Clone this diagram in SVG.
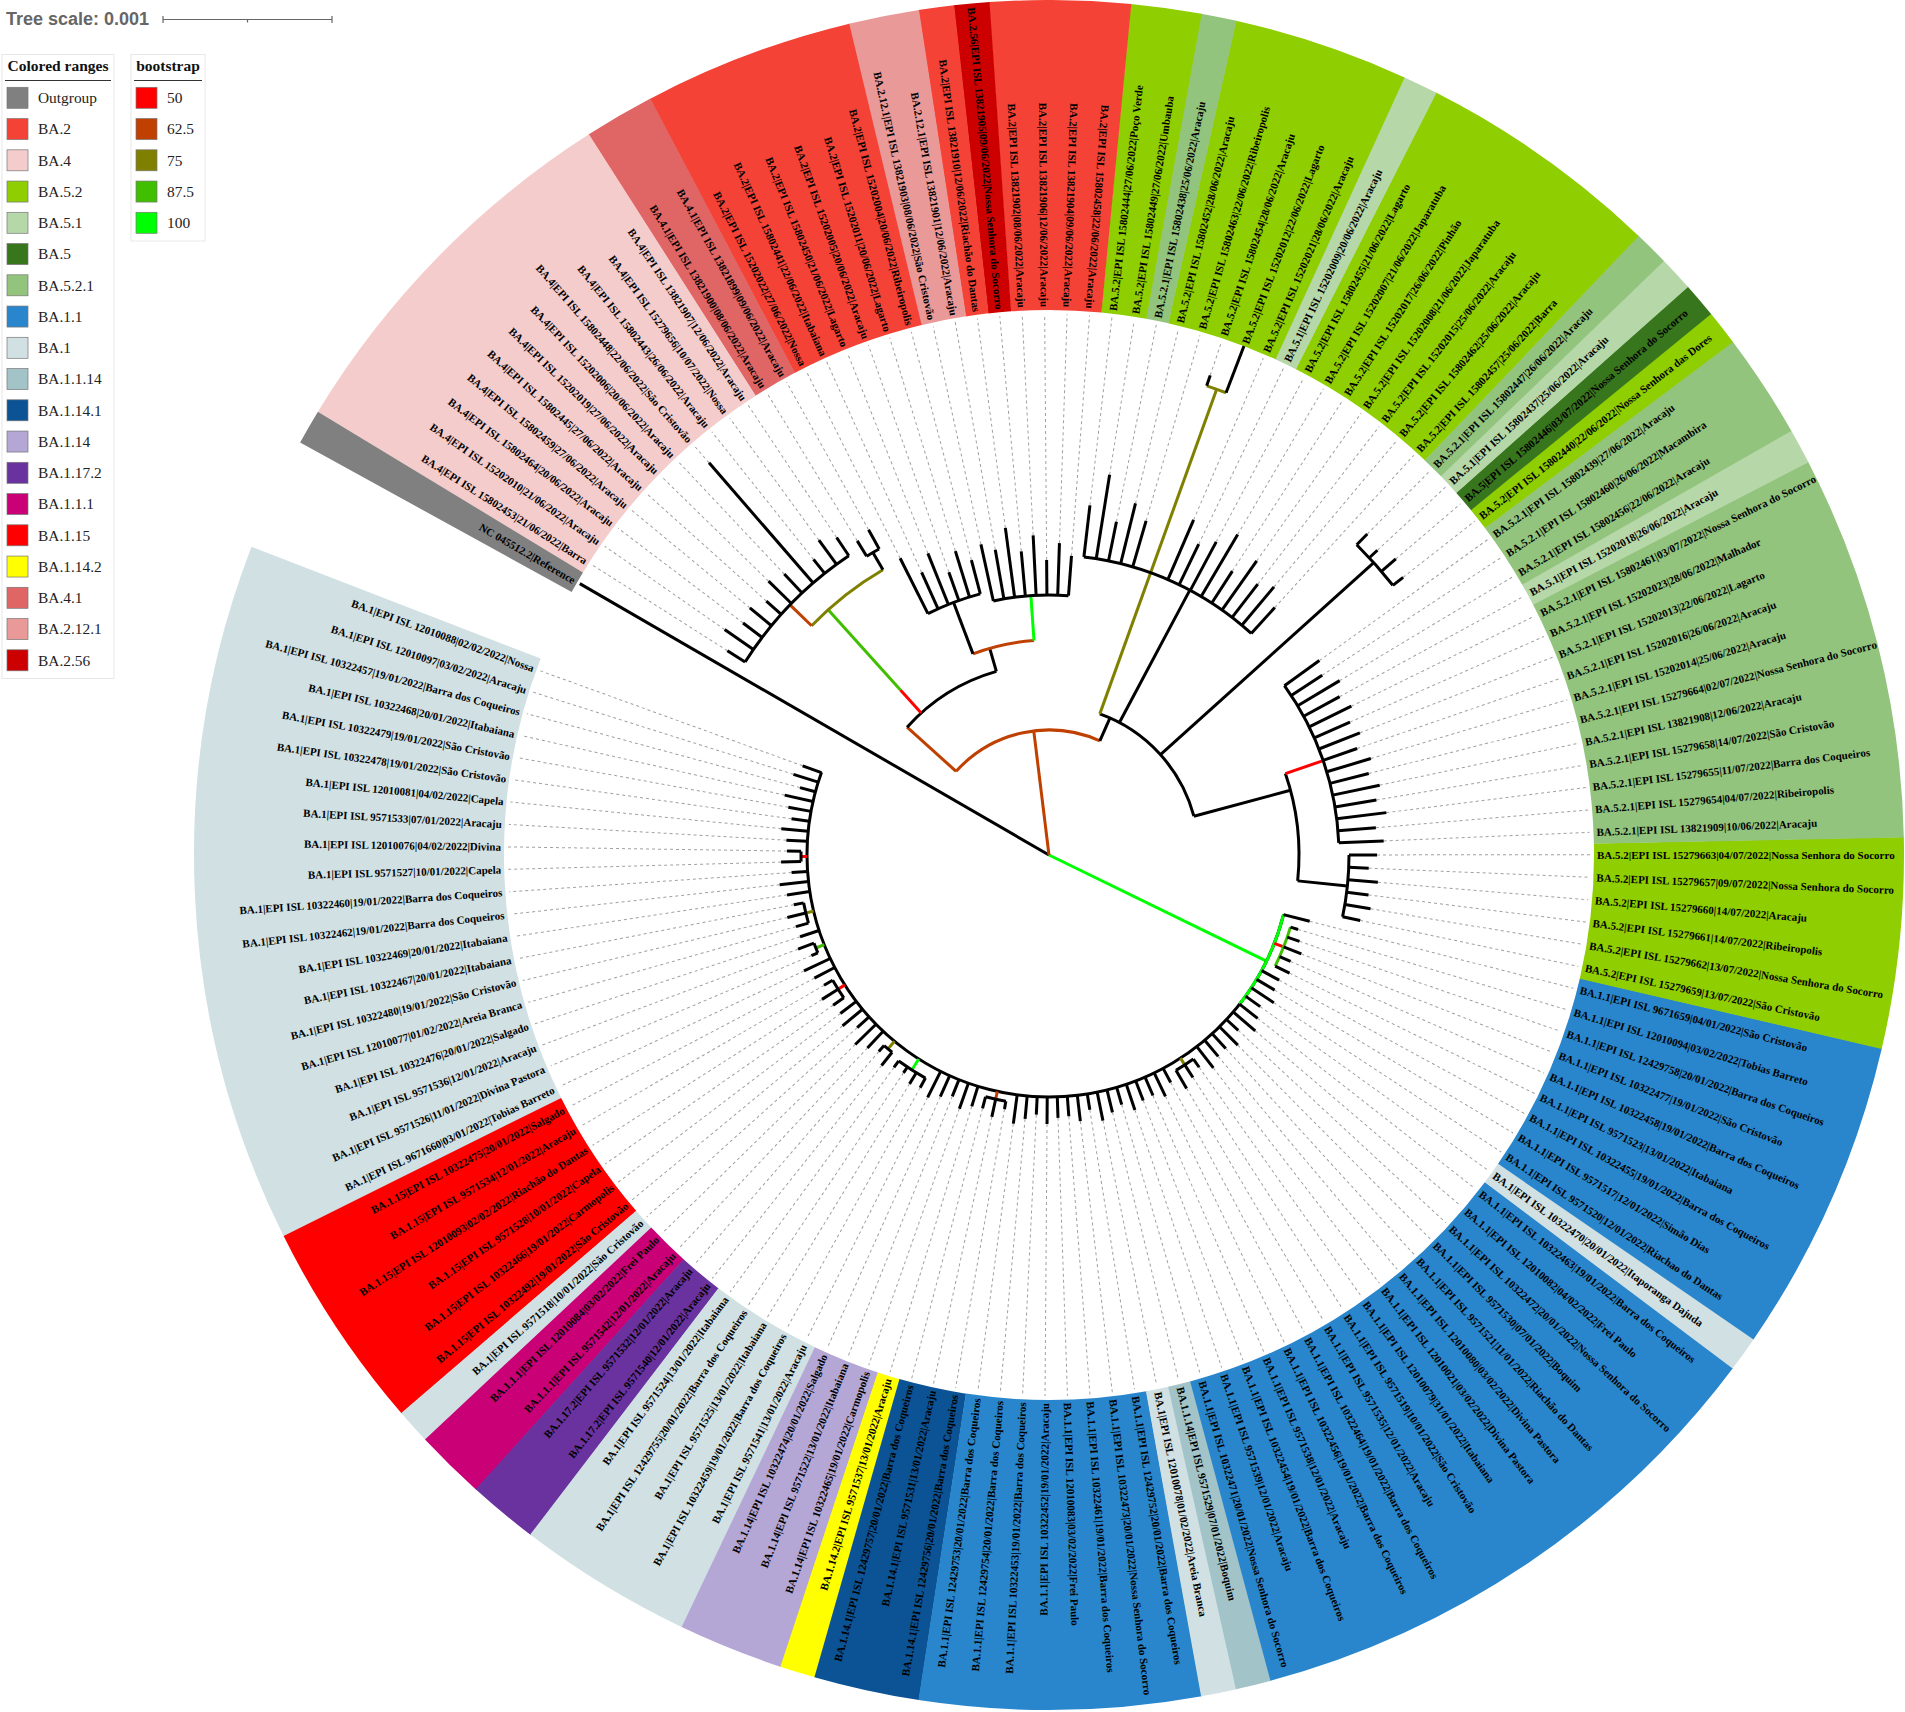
<svg xmlns="http://www.w3.org/2000/svg" width="1905" height="1712" viewBox="0 0 1905 1712">
<style>
.l{font-family:"Liberation Serif","Times New Roman",serif;font-weight:bold;font-size:11px;fill:#000;dominant-baseline:central}
.e{text-anchor:end}
.d{stroke:#a0a0a0;stroke-width:1;stroke-dasharray:3 3}
.b{fill:none;stroke-width:310}
.t{stroke:#000;stroke-width:3;fill:none}
.c50{stroke:#ff0000}.c62{stroke:#bf4000}.c75{stroke:#808000}.c87{stroke:#40bf00}.c100{stroke:#00ff00}
.lg{font-family:"Liberation Serif","Times New Roman",serif;font-size:15.4px;fill:#222}
.lh{font-family:"Liberation Serif","Times New Roman",serif;font-size:15.5px;font-weight:bold;fill:#111;text-anchor:middle}
.sw{stroke:#777;stroke-width:0.7}
</style>
<rect width="1905" height="1712" fill="#fff"/>
<g id="ranges">
<circle class="b" cx="1049" cy="855" r="700" stroke="#d0e0e3" stroke-dasharray="582 5000" transform="rotate(153.49 1049 855)"/>
<circle class="b" cx="1049" cy="855" r="700" stroke="#ff0000" stroke-dasharray="175 5000" transform="rotate(139.21 1049 855)"/>
<circle class="b" cx="1049" cy="855" r="700" stroke="#d0e0e3" stroke-dasharray="29.6 5000" transform="rotate(136.83 1049 855)"/>
<circle class="b" cx="1049" cy="855" r="700" stroke="#c90076" stroke-dasharray="58.7 5000" transform="rotate(132.07 1049 855)"/>
<circle class="b" cx="1049" cy="855" r="700" stroke="#6a329f" stroke-dasharray="58.7 5000" transform="rotate(127.31 1049 855)"/>
<circle class="b" cx="1049" cy="855" r="700" stroke="#d0e0e3" stroke-dasharray="146 5000" transform="rotate(115.41 1049 855)"/>
<circle class="b" cx="1049" cy="855" r="700" stroke="#b4a7d6" stroke-dasharray="87.7 5000" transform="rotate(108.27 1049 855)"/>
<circle class="b" cx="1049" cy="855" r="700" stroke="#ffff00" stroke-dasharray="29.6 5000" transform="rotate(105.89 1049 855)"/>
<circle class="b" cx="1049" cy="855" r="700" stroke="#0b5394" stroke-dasharray="87.7 5000" transform="rotate(98.75 1049 855)"/>
<circle class="b" cx="1049" cy="855" r="700" stroke="#2986cc" stroke-dasharray="233 5000" transform="rotate(79.71 1049 855)"/>
<circle class="b" cx="1049" cy="855" r="700" stroke="#d0e0e3" stroke-dasharray="29.6 5000" transform="rotate(77.33 1049 855)"/>
<circle class="b" cx="1049" cy="855" r="700" stroke="#a2c4c9" stroke-dasharray="29.6 5000" transform="rotate(74.95 1049 855)"/>
<circle class="b" cx="1049" cy="855" r="700" stroke="#2986cc" stroke-dasharray="465.7 5000" transform="rotate(36.87 1049 855)"/>
<circle class="b" cx="1049" cy="855" r="700" stroke="#d0e0e3" stroke-dasharray="29.6 5000" transform="rotate(34.49 1049 855)"/>
<circle class="b" cx="1049" cy="855" r="700" stroke="#2986cc" stroke-dasharray="262 5000" transform="rotate(13.07 1049 855)"/>
<circle class="b" cx="1049" cy="855" r="700" stroke="#8fce00" stroke-dasharray="175 5000" transform="rotate(-1.21 1049 855)"/>
<circle class="b" cx="1049" cy="855" r="700" stroke="#93c47d" stroke-dasharray="320.3 5000" transform="rotate(-27.39 1049 855)"/>
<circle class="b" cx="1049" cy="855" r="700" stroke="#b6d7a8" stroke-dasharray="29.6 5000" transform="rotate(-29.77 1049 855)"/>
<circle class="b" cx="1049" cy="855" r="700" stroke="#93c47d" stroke-dasharray="87.7 5000" transform="rotate(-36.91 1049 855)"/>
<circle class="b" cx="1049" cy="855" r="700" stroke="#8fce00" stroke-dasharray="29.6 5000" transform="rotate(-39.29 1049 855)"/>
<circle class="b" cx="1049" cy="855" r="700" stroke="#38761d" stroke-dasharray="29.6 5000" transform="rotate(-41.67 1049 855)"/>
<circle class="b" cx="1049" cy="855" r="700" stroke="#b6d7a8" stroke-dasharray="29.6 5000" transform="rotate(-44.05 1049 855)"/>
<circle class="b" cx="1049" cy="855" r="700" stroke="#93c47d" stroke-dasharray="29.6 5000" transform="rotate(-46.43 1049 855)"/>
<circle class="b" cx="1049" cy="855" r="700" stroke="#8fce00" stroke-dasharray="204 5000" transform="rotate(-63.09 1049 855)"/>
<circle class="b" cx="1049" cy="855" r="700" stroke="#b6d7a8" stroke-dasharray="29.6 5000" transform="rotate(-65.47 1049 855)"/>
<circle class="b" cx="1049" cy="855" r="700" stroke="#8fce00" stroke-dasharray="146 5000" transform="rotate(-77.37 1049 855)"/>
<circle class="b" cx="1049" cy="855" r="700" stroke="#93c47d" stroke-dasharray="29.6 5000" transform="rotate(-79.75 1049 855)"/>
<circle class="b" cx="1049" cy="855" r="700" stroke="#8fce00" stroke-dasharray="58.7 5000" transform="rotate(-84.51 1049 855)"/>
<circle class="b" cx="1049" cy="855" r="700" stroke="#f44336" stroke-dasharray="116.8 5000" transform="rotate(-94.03 1049 855)"/>
<circle class="b" cx="1049" cy="855" r="700" stroke="#cc0000" stroke-dasharray="29.6 5000" transform="rotate(-96.41 1049 855)"/>
<circle class="b" cx="1049" cy="855" r="700" stroke="#f44336" stroke-dasharray="29.6 5000" transform="rotate(-98.79 1049 855)"/>
<circle class="b" cx="1049" cy="855" r="700" stroke="#ea9999" stroke-dasharray="58.7 5000" transform="rotate(-103.55 1049 855)"/>
<circle class="b" cx="1049" cy="855" r="700" stroke="#f44336" stroke-dasharray="175 5000" transform="rotate(-117.83 1049 855)"/>
<circle class="b" cx="1049" cy="855" r="700" stroke="#e06666" stroke-dasharray="58.7 5000" transform="rotate(-122.59 1049 855)"/>
<circle class="b" cx="1049" cy="855" r="700" stroke="#f4cccc" stroke-dasharray="320.3 5000" transform="rotate(-148.77 1049 855)"/>
<circle class="b" cx="1049" cy="855" r="700" stroke="#808080" stroke-dasharray="29.1 5000" transform="rotate(-151.15 1049 855)"/>
</g>
<g id="connectors">
<g id="dashes">
<line class="d" x1="1311" y1="855" x2="1590" y2="855" transform="rotate(199.90 1049 855)"/>
<line class="d" x1="1317" y1="855" x2="1590" y2="855" transform="rotate(197.52 1049 855)"/>
<line class="d" x1="1307" y1="855" x2="1590" y2="855" transform="rotate(195.14 1049 855)"/>
<line class="d" x1="1320" y1="855" x2="1590" y2="855" transform="rotate(192.76 1049 855)"/>
<line class="d" x1="1314" y1="855" x2="1590" y2="855" transform="rotate(190.38 1049 855)"/>
<line class="d" x1="1309" y1="855" x2="1590" y2="855" transform="rotate(188.00 1049 855)"/>
<line class="d" x1="1318" y1="855" x2="1590" y2="855" transform="rotate(185.62 1049 855)"/>
<line class="d" x1="1312" y1="855" x2="1590" y2="855" transform="rotate(183.24 1049 855)"/>
<line class="d" x1="1311" y1="855" x2="1590" y2="855" transform="rotate(180.86 1049 855)"/>
<line class="d" x1="1317" y1="855" x2="1590" y2="855" transform="rotate(178.48 1049 855)"/>
<line class="d" x1="1307" y1="855" x2="1590" y2="855" transform="rotate(176.10 1049 855)"/>
<line class="d" x1="1320" y1="855" x2="1590" y2="855" transform="rotate(173.72 1049 855)"/>
<line class="d" x1="1314" y1="855" x2="1590" y2="855" transform="rotate(171.34 1049 855)"/>
<line class="d" x1="1309" y1="855" x2="1590" y2="855" transform="rotate(168.96 1049 855)"/>
<line class="d" x1="1318" y1="855" x2="1590" y2="855" transform="rotate(166.58 1049 855)"/>
<line class="d" x1="1312" y1="855" x2="1590" y2="855" transform="rotate(164.20 1049 855)"/>
<line class="d" x1="1311" y1="855" x2="1590" y2="855" transform="rotate(161.82 1049 855)"/>
<line class="d" x1="1317" y1="855" x2="1590" y2="855" transform="rotate(159.44 1049 855)"/>
<line class="d" x1="1307" y1="855" x2="1590" y2="855" transform="rotate(157.06 1049 855)"/>
<line class="d" x1="1320" y1="855" x2="1590" y2="855" transform="rotate(154.68 1049 855)"/>
<line class="d" x1="1314" y1="855" x2="1590" y2="855" transform="rotate(152.30 1049 855)"/>
<line class="d" x1="1309" y1="855" x2="1590" y2="855" transform="rotate(149.92 1049 855)"/>
<line class="d" x1="1318" y1="855" x2="1590" y2="855" transform="rotate(147.54 1049 855)"/>
<line class="d" x1="1312" y1="855" x2="1590" y2="855" transform="rotate(145.16 1049 855)"/>
<line class="d" x1="1311" y1="855" x2="1590" y2="855" transform="rotate(142.78 1049 855)"/>
<line class="d" x1="1317" y1="855" x2="1590" y2="855" transform="rotate(140.40 1049 855)"/>
<line class="d" x1="1307" y1="855" x2="1590" y2="855" transform="rotate(138.02 1049 855)"/>
<line class="d" x1="1320" y1="855" x2="1590" y2="855" transform="rotate(135.64 1049 855)"/>
<line class="d" x1="1314" y1="855" x2="1590" y2="855" transform="rotate(133.26 1049 855)"/>
<line class="d" x1="1309" y1="855" x2="1590" y2="855" transform="rotate(130.88 1049 855)"/>
<line class="d" x1="1318" y1="855" x2="1590" y2="855" transform="rotate(128.50 1049 855)"/>
<line class="d" x1="1312" y1="855" x2="1590" y2="855" transform="rotate(126.12 1049 855)"/>
<line class="d" x1="1311" y1="855" x2="1590" y2="855" transform="rotate(123.74 1049 855)"/>
<line class="d" x1="1317" y1="855" x2="1590" y2="855" transform="rotate(121.36 1049 855)"/>
<line class="d" x1="1315" y1="855" x2="1590" y2="855" transform="rotate(118.98 1049 855)"/>
<line class="d" x1="1320" y1="855" x2="1590" y2="855" transform="rotate(116.60 1049 855)"/>
<line class="d" x1="1314" y1="855" x2="1590" y2="855" transform="rotate(114.22 1049 855)"/>
<line class="d" x1="1309" y1="855" x2="1590" y2="855" transform="rotate(111.84 1049 855)"/>
<line class="d" x1="1318" y1="855" x2="1590" y2="855" transform="rotate(109.46 1049 855)"/>
<line class="d" x1="1312" y1="855" x2="1590" y2="855" transform="rotate(107.08 1049 855)"/>
<line class="d" x1="1311" y1="855" x2="1590" y2="855" transform="rotate(104.70 1049 855)"/>
<line class="d" x1="1317" y1="855" x2="1590" y2="855" transform="rotate(102.32 1049 855)"/>
<line class="d" x1="1307" y1="855" x2="1590" y2="855" transform="rotate(99.94 1049 855)"/>
<line class="d" x1="1320" y1="855" x2="1590" y2="855" transform="rotate(97.56 1049 855)"/>
<line class="d" x1="1314" y1="855" x2="1590" y2="855" transform="rotate(95.18 1049 855)"/>
<line class="d" x1="1309" y1="855" x2="1590" y2="855" transform="rotate(92.80 1049 855)"/>
<line class="d" x1="1318" y1="855" x2="1590" y2="855" transform="rotate(90.42 1049 855)"/>
<line class="d" x1="1312" y1="855" x2="1590" y2="855" transform="rotate(88.04 1049 855)"/>
<line class="d" x1="1311" y1="855" x2="1590" y2="855" transform="rotate(85.66 1049 855)"/>
<line class="d" x1="1317" y1="855" x2="1590" y2="855" transform="rotate(83.28 1049 855)"/>
<line class="d" x1="1307" y1="855" x2="1590" y2="855" transform="rotate(80.90 1049 855)"/>
<line class="d" x1="1320" y1="855" x2="1590" y2="855" transform="rotate(78.52 1049 855)"/>
<line class="d" x1="1314" y1="855" x2="1590" y2="855" transform="rotate(76.14 1049 855)"/>
<line class="d" x1="1309" y1="855" x2="1590" y2="855" transform="rotate(73.76 1049 855)"/>
<line class="d" x1="1318" y1="855" x2="1590" y2="855" transform="rotate(71.38 1049 855)"/>
<line class="d" x1="1312" y1="855" x2="1590" y2="855" transform="rotate(69.00 1049 855)"/>
<line class="d" x1="1311" y1="855" x2="1590" y2="855" transform="rotate(66.62 1049 855)"/>
<line class="d" x1="1317" y1="855" x2="1590" y2="855" transform="rotate(64.24 1049 855)"/>
<line class="d" x1="1307" y1="855" x2="1590" y2="855" transform="rotate(61.86 1049 855)"/>
<line class="d" x1="1320" y1="855" x2="1590" y2="855" transform="rotate(59.48 1049 855)"/>
<line class="d" x1="1314" y1="855" x2="1590" y2="855" transform="rotate(57.10 1049 855)"/>
<line class="d" x1="1309" y1="855" x2="1590" y2="855" transform="rotate(54.72 1049 855)"/>
<line class="d" x1="1318" y1="855" x2="1590" y2="855" transform="rotate(52.34 1049 855)"/>
<line class="d" x1="1312" y1="855" x2="1590" y2="855" transform="rotate(49.96 1049 855)"/>
<line class="d" x1="1311" y1="855" x2="1590" y2="855" transform="rotate(47.58 1049 855)"/>
<line class="d" x1="1317" y1="855" x2="1590" y2="855" transform="rotate(45.20 1049 855)"/>
<line class="d" x1="1307" y1="855" x2="1590" y2="855" transform="rotate(42.82 1049 855)"/>
<line class="d" x1="1320" y1="855" x2="1590" y2="855" transform="rotate(40.44 1049 855)"/>
<line class="d" x1="1314" y1="855" x2="1590" y2="855" transform="rotate(38.06 1049 855)"/>
<line class="d" x1="1309" y1="855" x2="1590" y2="855" transform="rotate(35.68 1049 855)"/>
<line class="d" x1="1318" y1="855" x2="1590" y2="855" transform="rotate(33.30 1049 855)"/>
<line class="d" x1="1312" y1="855" x2="1590" y2="855" transform="rotate(30.92 1049 855)"/>
<line class="d" x1="1311" y1="855" x2="1590" y2="855" transform="rotate(28.54 1049 855)"/>
<line class="d" x1="1317" y1="855" x2="1590" y2="855" transform="rotate(26.16 1049 855)"/>
<line class="d" x1="1313" y1="855" x2="1590" y2="855" transform="rotate(23.78 1049 855)"/>
<line class="d" x1="1320" y1="855" x2="1590" y2="855" transform="rotate(21.40 1049 855)"/>
<line class="d" x1="1314" y1="855" x2="1590" y2="855" transform="rotate(19.02 1049 855)"/>
<line class="d" x1="1309" y1="855" x2="1590" y2="855" transform="rotate(16.64 1049 855)"/>
<line class="d" x1="1318" y1="855" x2="1590" y2="855" transform="rotate(14.26 1049 855)"/>
<line class="d" x1="1367" y1="855" x2="1590" y2="855" transform="rotate(11.88 1049 855)"/>
<line class="d" x1="1375" y1="855" x2="1590" y2="855" transform="rotate(9.50 1049 855)"/>
<line class="d" x1="1371" y1="855" x2="1590" y2="855" transform="rotate(7.12 1049 855)"/>
<line class="d" x1="1379" y1="855" x2="1590" y2="855" transform="rotate(4.74 1049 855)"/>
<line class="d" x1="1369" y1="855" x2="1590" y2="855" transform="rotate(2.36 1049 855)"/>
<line class="d" x1="1377" y1="855" x2="1590" y2="855" transform="rotate(-0.02 1049 855)"/>
<line class="d" x1="1384" y1="855" x2="1590" y2="855" transform="rotate(-2.40 1049 855)"/>
<line class="d" x1="1377" y1="855" x2="1590" y2="855" transform="rotate(-4.78 1049 855)"/>
<line class="d" x1="1389" y1="855" x2="1590" y2="855" transform="rotate(-7.16 1049 855)"/>
<line class="d" x1="1381" y1="855" x2="1590" y2="855" transform="rotate(-9.54 1049 855)"/>
<line class="d" x1="1387" y1="855" x2="1590" y2="855" transform="rotate(-11.92 1049 855)"/>
<line class="d" x1="1379" y1="855" x2="1590" y2="855" transform="rotate(-14.30 1049 855)"/>
<line class="d" x1="1385" y1="855" x2="1590" y2="855" transform="rotate(-16.68 1049 855)"/>
<line class="d" x1="1375" y1="855" x2="1590" y2="855" transform="rotate(-19.06 1049 855)"/>
<line class="d" x1="1383" y1="855" x2="1590" y2="855" transform="rotate(-21.44 1049 855)"/>
<line class="d" x1="1378" y1="855" x2="1590" y2="855" transform="rotate(-23.82 1049 855)"/>
<line class="d" x1="1386" y1="855" x2="1590" y2="855" transform="rotate(-26.20 1049 855)"/>
<line class="d" x1="1380" y1="855" x2="1590" y2="855" transform="rotate(-28.58 1049 855)"/>
<line class="d" x1="1388" y1="855" x2="1590" y2="855" transform="rotate(-30.96 1049 855)"/>
<line class="d" x1="1376" y1="855" x2="1590" y2="855" transform="rotate(-33.34 1049 855)"/>
<line class="d" x1="1382" y1="855" x2="1590" y2="855" transform="rotate(-35.72 1049 855)"/>
<line class="d" x1="1499" y1="855" x2="1590" y2="855" transform="rotate(-38.10 1049 855)"/>
<line class="d" x1="1505" y1="855" x2="1590" y2="855" transform="rotate(-40.48 1049 855)"/>
<line class="d" x1="1497" y1="855" x2="1590" y2="855" transform="rotate(-42.86 1049 855)"/>
<line class="d" x1="1501" y1="855" x2="1590" y2="855" transform="rotate(-45.24 1049 855)"/>
<line class="d" x1="1384" y1="855" x2="1590" y2="855" transform="rotate(-47.62 1049 855)"/>
<line class="d" x1="1399" y1="855" x2="1590" y2="855" transform="rotate(-50.00 1049 855)"/>
<line class="d" x1="1391" y1="855" x2="1590" y2="855" transform="rotate(-52.38 1049 855)"/>
<line class="d" x1="1409" y1="855" x2="1590" y2="855" transform="rotate(-54.76 1049 855)"/>
<line class="d" x1="1387" y1="855" x2="1590" y2="855" transform="rotate(-57.14 1049 855)"/>
<line class="d" x1="1421" y1="855" x2="1590" y2="855" transform="rotate(-59.52 1049 855)"/>
<line class="d" x1="1404" y1="855" x2="1590" y2="855" transform="rotate(-61.90 1049 855)"/>
<line class="d" x1="1394" y1="855" x2="1590" y2="855" transform="rotate(-64.28 1049 855)"/>
<line class="d" x1="1414" y1="855" x2="1590" y2="855" transform="rotate(-66.66 1049 855)"/>
<line class="d" x1="1555" y1="855" x2="1590" y2="855" transform="rotate(-71.42 1049 855)"/>
<line class="d" x1="1397" y1="855" x2="1590" y2="855" transform="rotate(-73.80 1049 855)"/>
<line class="d" x1="1411" y1="855" x2="1590" y2="855" transform="rotate(-76.18 1049 855)"/>
<line class="d" x1="1389" y1="855" x2="1590" y2="855" transform="rotate(-78.56 1049 855)"/>
<line class="d" x1="1434" y1="855" x2="1590" y2="855" transform="rotate(-80.94 1049 855)"/>
<line class="d" x1="1401" y1="855" x2="1590" y2="855" transform="rotate(-83.32 1049 855)"/>
<line class="d" x1="1349" y1="855" x2="1590" y2="855" transform="rotate(-85.70 1049 855)"/>
<line class="d" x1="1361" y1="855" x2="1590" y2="855" transform="rotate(-88.08 1049 855)"/>
<line class="d" x1="1344" y1="855" x2="1590" y2="855" transform="rotate(-90.46 1049 855)"/>
<line class="d" x1="1369" y1="855" x2="1590" y2="855" transform="rotate(-92.84 1049 855)"/>
<line class="d" x1="1354" y1="855" x2="1590" y2="855" transform="rotate(-95.22 1049 855)"/>
<line class="d" x1="1379" y1="855" x2="1590" y2="855" transform="rotate(-97.60 1049 855)"/>
<line class="d" x1="1359" y1="855" x2="1590" y2="855" transform="rotate(-99.98 1049 855)"/>
<line class="d" x1="1367" y1="855" x2="1590" y2="855" transform="rotate(-102.36 1049 855)"/>
<line class="d" x1="1354" y1="855" x2="1590" y2="855" transform="rotate(-104.74 1049 855)"/>
<line class="d" x1="1367" y1="855" x2="1590" y2="855" transform="rotate(-107.12 1049 855)"/>
<line class="d" x1="1349" y1="855" x2="1590" y2="855" transform="rotate(-109.50 1049 855)"/>
<line class="d" x1="1374" y1="855" x2="1590" y2="855" transform="rotate(-111.88 1049 855)"/>
<line class="d" x1="1359" y1="855" x2="1590" y2="855" transform="rotate(-114.26 1049 855)"/>
<line class="d" x1="1381" y1="855" x2="1590" y2="855" transform="rotate(-116.64 1049 855)"/>
<line class="d" x1="1421" y1="855" x2="1590" y2="855" transform="rotate(-119.02 1049 855)"/>
<line class="d" x1="1417" y1="855" x2="1590" y2="855" transform="rotate(-121.40 1049 855)"/>
<line class="d" x1="1431" y1="855" x2="1590" y2="855" transform="rotate(-123.78 1049 855)"/>
<line class="d" x1="1439" y1="855" x2="1590" y2="855" transform="rotate(-126.16 1049 855)"/>
<line class="d" x1="1427" y1="855" x2="1590" y2="855" transform="rotate(-128.54 1049 855)"/>
<line class="d" x1="1568" y1="855" x2="1590" y2="855" transform="rotate(-130.92 1049 855)"/>
<line class="d" x1="1435" y1="855" x2="1590" y2="855" transform="rotate(-133.30 1049 855)"/>
<line class="d" x1="1441" y1="855" x2="1590" y2="855" transform="rotate(-135.68 1049 855)"/>
<line class="d" x1="1429" y1="855" x2="1590" y2="855" transform="rotate(-138.06 1049 855)"/>
<line class="d" x1="1437" y1="855" x2="1590" y2="855" transform="rotate(-140.44 1049 855)"/>
<line class="d" x1="1433" y1="855" x2="1590" y2="855" transform="rotate(-142.82 1049 855)"/>
<line class="d" x1="1444" y1="855" x2="1590" y2="855" transform="rotate(-145.20 1049 855)"/>
<line class="d" x1="1430" y1="855" x2="1590" y2="855" transform="rotate(-147.58 1049 855)"/>
</g>
<g id="tree">
<line class="t" x1="1049" y1="855" x2="1591" y2="855" transform="rotate(-149.96 1049 855)"/>
<line class="t c100" x1="1049" y1="855" x2="1291" y2="855" transform="rotate(26 1049 855)"/>
<circle class="t" cx="1049" cy="855" r="242" stroke-dasharray="784.1 9999" transform="rotate(14.26 1049 855)"/>
<circle class="t c100" cx="1049" cy="855" r="242" stroke-dasharray="100.3 9999" transform="rotate(14.26 1049 855)"/>
<line class="t c50" x1="1291" y1="855" x2="1297" y2="855" transform="rotate(179.67 1049 855)"/>
<circle class="t" cx="1049" cy="855" r="248" stroke-dasharray="10.3 9999" transform="rotate(178.48 1049 855)"/>
<line class="t c75" x1="1291" y1="855" x2="1299" y2="855" transform="rotate(166.58 1049 855)"/>
<circle class="t" cx="1049" cy="855" r="250" stroke-dasharray="20.8 9999" transform="rotate(164.20 1049 855)"/>
<line class="t c87" x1="1291" y1="855" x2="1300" y2="855" transform="rotate(158.25 1049 855)"/>
<circle class="t" cx="1049" cy="855" r="251" stroke-dasharray="10.4 9999" transform="rotate(157.06 1049 855)"/>
<line class="t c50" x1="1291" y1="855" x2="1299" y2="855" transform="rotate(147.54 1049 855)"/>
<circle class="t" cx="1049" cy="855" r="250" stroke-dasharray="20.8 9999" transform="rotate(145.16 1049 855)"/>
<line class="t c75" x1="1291" y1="855" x2="1301" y2="855" transform="rotate(129.69 1049 855)"/>
<circle class="t" cx="1049" cy="855" r="252" stroke-dasharray="10.5 9999" transform="rotate(128.50 1049 855)"/>
<line class="t c100" x1="1291" y1="855" x2="1304" y2="855" transform="rotate(122.55 1049 855)"/>
<circle class="t" cx="1049" cy="855" r="255" stroke-dasharray="31.8 9999" transform="rotate(118.98 1049 855)"/>
<line class="t c62" x1="1291" y1="855" x2="1299" y2="855" transform="rotate(102.32 1049 855)"/>
<circle class="t" cx="1049" cy="855" r="250" stroke-dasharray="20.8 9999" transform="rotate(99.94 1049 855)"/>
<line class="t c75" x1="1291" y1="855" x2="1299" y2="855" transform="rotate(57.10 1049 855)"/>
<circle class="t" cx="1049" cy="855" r="250" stroke-dasharray="20.8 9999" transform="rotate(54.72 1049 855)"/>
<line class="t c50" x1="1291" y1="855" x2="1301" y2="855" transform="rotate(21.40 1049 855)"/>
<circle class="t c87" cx="1049" cy="855" r="252" stroke-dasharray="41.9 9999" transform="rotate(16.64 1049 855)"/>
<line class="t" x1="1291" y1="855" x2="1311" y2="855" transform="rotate(199.90 1049 855)"/>
<line class="t" x1="1291" y1="855" x2="1317" y2="855" transform="rotate(197.52 1049 855)"/>
<line class="t" x1="1291" y1="855" x2="1307" y2="855" transform="rotate(195.14 1049 855)"/>
<line class="t" x1="1291" y1="855" x2="1320" y2="855" transform="rotate(192.76 1049 855)"/>
<line class="t" x1="1291" y1="855" x2="1314" y2="855" transform="rotate(190.38 1049 855)"/>
<line class="t" x1="1291" y1="855" x2="1309" y2="855" transform="rotate(188.00 1049 855)"/>
<line class="t" x1="1291" y1="855" x2="1318" y2="855" transform="rotate(185.62 1049 855)"/>
<line class="t" x1="1291" y1="855" x2="1312" y2="855" transform="rotate(183.24 1049 855)"/>
<line class="t" x1="1297" y1="855" x2="1311" y2="855" transform="rotate(180.86 1049 855)"/>
<line class="t" x1="1297" y1="855" x2="1317" y2="855" transform="rotate(178.48 1049 855)"/>
<line class="t" x1="1291" y1="855" x2="1307" y2="855" transform="rotate(176.10 1049 855)"/>
<line class="t" x1="1291" y1="855" x2="1320" y2="855" transform="rotate(173.72 1049 855)"/>
<line class="t" x1="1291" y1="855" x2="1314" y2="855" transform="rotate(171.34 1049 855)"/>
<line class="t" x1="1299" y1="855" x2="1309" y2="855" transform="rotate(168.96 1049 855)"/>
<line class="t" x1="1299" y1="855" x2="1318" y2="855" transform="rotate(166.58 1049 855)"/>
<line class="t" x1="1299" y1="855" x2="1312" y2="855" transform="rotate(164.20 1049 855)"/>
<line class="t" x1="1291" y1="855" x2="1311" y2="855" transform="rotate(161.82 1049 855)"/>
<line class="t" x1="1300" y1="855" x2="1317" y2="855" transform="rotate(159.44 1049 855)"/>
<line class="t" x1="1300" y1="855" x2="1307" y2="855" transform="rotate(157.06 1049 855)"/>
<line class="t" x1="1291" y1="855" x2="1320" y2="855" transform="rotate(154.68 1049 855)"/>
<line class="t" x1="1291" y1="855" x2="1314" y2="855" transform="rotate(152.30 1049 855)"/>
<line class="t" x1="1299" y1="855" x2="1309" y2="855" transform="rotate(149.92 1049 855)"/>
<line class="t" x1="1299" y1="855" x2="1318" y2="855" transform="rotate(147.54 1049 855)"/>
<line class="t" x1="1299" y1="855" x2="1312" y2="855" transform="rotate(145.16 1049 855)"/>
<line class="t" x1="1291" y1="855" x2="1311" y2="855" transform="rotate(142.78 1049 855)"/>
<line class="t" x1="1291" y1="855" x2="1317" y2="855" transform="rotate(140.40 1049 855)"/>
<line class="t" x1="1291" y1="855" x2="1307" y2="855" transform="rotate(138.02 1049 855)"/>
<line class="t" x1="1291" y1="855" x2="1320" y2="855" transform="rotate(135.64 1049 855)"/>
<line class="t" x1="1291" y1="855" x2="1314" y2="855" transform="rotate(133.26 1049 855)"/>
<line class="t" x1="1301" y1="855" x2="1309" y2="855" transform="rotate(130.88 1049 855)"/>
<line class="t" x1="1301" y1="855" x2="1318" y2="855" transform="rotate(128.50 1049 855)"/>
<line class="t" x1="1304" y1="855" x2="1312" y2="855" transform="rotate(126.12 1049 855)"/>
<line class="t" x1="1304" y1="855" x2="1311" y2="855" transform="rotate(123.74 1049 855)"/>
<line class="t" x1="1304" y1="855" x2="1317" y2="855" transform="rotate(121.36 1049 855)"/>
<line class="t" x1="1304" y1="855" x2="1315" y2="855" transform="rotate(118.98 1049 855)"/>
<line class="t" x1="1291" y1="855" x2="1320" y2="855" transform="rotate(116.60 1049 855)"/>
<line class="t" x1="1291" y1="855" x2="1314" y2="855" transform="rotate(114.22 1049 855)"/>
<line class="t" x1="1291" y1="855" x2="1309" y2="855" transform="rotate(111.84 1049 855)"/>
<line class="t" x1="1291" y1="855" x2="1318" y2="855" transform="rotate(109.46 1049 855)"/>
<line class="t" x1="1291" y1="855" x2="1312" y2="855" transform="rotate(107.08 1049 855)"/>
<line class="t" x1="1299" y1="855" x2="1311" y2="855" transform="rotate(104.70 1049 855)"/>
<line class="t" x1="1299" y1="855" x2="1317" y2="855" transform="rotate(102.32 1049 855)"/>
<line class="t" x1="1299" y1="855" x2="1307" y2="855" transform="rotate(99.94 1049 855)"/>
<line class="t" x1="1291" y1="855" x2="1320" y2="855" transform="rotate(97.56 1049 855)"/>
<line class="t" x1="1291" y1="855" x2="1314" y2="855" transform="rotate(95.18 1049 855)"/>
<line class="t" x1="1291" y1="855" x2="1309" y2="855" transform="rotate(92.80 1049 855)"/>
<line class="t" x1="1291" y1="855" x2="1318" y2="855" transform="rotate(90.42 1049 855)"/>
<line class="t" x1="1291" y1="855" x2="1312" y2="855" transform="rotate(88.04 1049 855)"/>
<line class="t" x1="1291" y1="855" x2="1311" y2="855" transform="rotate(85.66 1049 855)"/>
<line class="t" x1="1291" y1="855" x2="1317" y2="855" transform="rotate(83.28 1049 855)"/>
<line class="t" x1="1291" y1="855" x2="1307" y2="855" transform="rotate(80.90 1049 855)"/>
<line class="t" x1="1291" y1="855" x2="1320" y2="855" transform="rotate(78.52 1049 855)"/>
<line class="t" x1="1291" y1="855" x2="1314" y2="855" transform="rotate(76.14 1049 855)"/>
<line class="t" x1="1291" y1="855" x2="1309" y2="855" transform="rotate(73.76 1049 855)"/>
<line class="t" x1="1291" y1="855" x2="1318" y2="855" transform="rotate(71.38 1049 855)"/>
<line class="t" x1="1291" y1="855" x2="1312" y2="855" transform="rotate(69.00 1049 855)"/>
<line class="t" x1="1291" y1="855" x2="1311" y2="855" transform="rotate(66.62 1049 855)"/>
<line class="t" x1="1291" y1="855" x2="1317" y2="855" transform="rotate(64.24 1049 855)"/>
<line class="t" x1="1291" y1="855" x2="1307" y2="855" transform="rotate(61.86 1049 855)"/>
<line class="t" x1="1299" y1="855" x2="1320" y2="855" transform="rotate(59.48 1049 855)"/>
<line class="t" x1="1299" y1="855" x2="1314" y2="855" transform="rotate(57.10 1049 855)"/>
<line class="t" x1="1299" y1="855" x2="1309" y2="855" transform="rotate(54.72 1049 855)"/>
<line class="t" x1="1291" y1="855" x2="1318" y2="855" transform="rotate(52.34 1049 855)"/>
<line class="t" x1="1291" y1="855" x2="1312" y2="855" transform="rotate(49.96 1049 855)"/>
<line class="t" x1="1291" y1="855" x2="1311" y2="855" transform="rotate(47.58 1049 855)"/>
<line class="t" x1="1291" y1="855" x2="1317" y2="855" transform="rotate(45.20 1049 855)"/>
<line class="t" x1="1291" y1="855" x2="1307" y2="855" transform="rotate(42.82 1049 855)"/>
<line class="t" x1="1291" y1="855" x2="1320" y2="855" transform="rotate(40.44 1049 855)"/>
<line class="t" x1="1291" y1="855" x2="1314" y2="855" transform="rotate(38.06 1049 855)"/>
<line class="t" x1="1291" y1="855" x2="1309" y2="855" transform="rotate(35.68 1049 855)"/>
<line class="t" x1="1291" y1="855" x2="1318" y2="855" transform="rotate(33.30 1049 855)"/>
<line class="t" x1="1291" y1="855" x2="1312" y2="855" transform="rotate(30.92 1049 855)"/>
<line class="t" x1="1291" y1="855" x2="1311" y2="855" transform="rotate(28.54 1049 855)"/>
<line class="t" x1="1301" y1="855" x2="1317" y2="855" transform="rotate(26.16 1049 855)"/>
<line class="t" x1="1301" y1="855" x2="1313" y2="855" transform="rotate(23.78 1049 855)"/>
<line class="t" x1="1301" y1="855" x2="1320" y2="855" transform="rotate(21.40 1049 855)"/>
<line class="t" x1="1301" y1="855" x2="1314" y2="855" transform="rotate(19.02 1049 855)"/>
<line class="t" x1="1301" y1="855" x2="1309" y2="855" transform="rotate(16.64 1049 855)"/>
<line class="t" x1="1291" y1="855" x2="1318" y2="855" transform="rotate(14.26 1049 855)"/>
<line class="t c62" x1="1049" y1="855" x2="1174" y2="855" transform="rotate(-97 1049 855)"/>
<circle class="t c62" cx="1049" cy="855" r="125" stroke-dasharray="157.1 9999" transform="rotate(-138 1049 855)"/>
<line class="t c62" x1="1174" y1="855" x2="1240" y2="855" transform="rotate(-138 1049 855)"/>
<circle class="t" cx="1049" cy="855" r="191" stroke-dasharray="106.7 9999" transform="rotate(-138 1049 855)"/>
<line class="t c50" x1="1240" y1="855" x2="1271" y2="855" transform="rotate(-132 1049 855)"/>
<line class="t c87" x1="1271" y1="855" x2="1379" y2="855" transform="rotate(-132 1049 855)"/>
<circle class="t c75" cx="1049" cy="855" r="330" stroke-dasharray="91 9999" transform="rotate(-136 1049 855)"/>
<line class="t" x1="1379" y1="855" x2="1399" y2="855" transform="rotate(-120.21 1049 855)"/>
<circle class="t" cx="1049" cy="855" r="350" stroke-dasharray="14.5 9999" transform="rotate(-121.40 1049 855)"/>
<line class="t c62" x1="1379" y1="855" x2="1409" y2="855" transform="rotate(-136 1049 855)"/>
<circle class="t" cx="1049" cy="855" r="360" stroke-dasharray="149.5 9999" transform="rotate(-147.58 1049 855)"/>
<line class="t" x1="1399" y1="855" x2="1421" y2="855" transform="rotate(-119.02 1049 855)"/>
<line class="t" x1="1399" y1="855" x2="1417" y2="855" transform="rotate(-121.40 1049 855)"/>
<line class="t" x1="1409" y1="855" x2="1431" y2="855" transform="rotate(-123.78 1049 855)"/>
<line class="t" x1="1409" y1="855" x2="1439" y2="855" transform="rotate(-126.16 1049 855)"/>
<line class="t" x1="1409" y1="855" x2="1427" y2="855" transform="rotate(-128.54 1049 855)"/>
<line class="t" x1="1409" y1="855" x2="1568" y2="855" transform="rotate(-130.92 1049 855)"/>
<line class="t" x1="1409" y1="855" x2="1435" y2="855" transform="rotate(-133.30 1049 855)"/>
<line class="t" x1="1409" y1="855" x2="1441" y2="855" transform="rotate(-135.68 1049 855)"/>
<line class="t" x1="1409" y1="855" x2="1429" y2="855" transform="rotate(-138.06 1049 855)"/>
<line class="t" x1="1409" y1="855" x2="1437" y2="855" transform="rotate(-140.44 1049 855)"/>
<line class="t" x1="1409" y1="855" x2="1433" y2="855" transform="rotate(-142.82 1049 855)"/>
<line class="t" x1="1409" y1="855" x2="1444" y2="855" transform="rotate(-145.20 1049 855)"/>
<line class="t" x1="1409" y1="855" x2="1430" y2="855" transform="rotate(-147.58 1049 855)"/>
<line class="t" x1="1240" y1="855" x2="1264" y2="855" transform="rotate(-106 1049 855)"/>
<circle class="t c62" cx="1049" cy="855" r="215" stroke-dasharray="62.7 9999" transform="rotate(-110.7 1049 855)"/>
<line class="t" x1="1264" y1="855" x2="1319" y2="855" transform="rotate(-110.7 1049 855)"/>
<circle class="t" cx="1049" cy="855" r="270" stroke-dasharray="56.1 9999" transform="rotate(-116.64 1049 855)"/>
<line class="t c100" x1="1264" y1="855" x2="1309" y2="855" transform="rotate(-94 1049 855)"/>
<circle class="t" cx="1049" cy="855" r="260" stroke-dasharray="75.6 9999" transform="rotate(-102.36 1049 855)"/>
<line class="t" x1="1309" y1="855" x2="1349" y2="855" transform="rotate(-85.70 1049 855)"/>
<line class="t" x1="1309" y1="855" x2="1361" y2="855" transform="rotate(-88.08 1049 855)"/>
<line class="t" x1="1309" y1="855" x2="1344" y2="855" transform="rotate(-90.46 1049 855)"/>
<line class="t" x1="1309" y1="855" x2="1369" y2="855" transform="rotate(-92.84 1049 855)"/>
<line class="t" x1="1309" y1="855" x2="1354" y2="855" transform="rotate(-95.22 1049 855)"/>
<line class="t" x1="1309" y1="855" x2="1379" y2="855" transform="rotate(-97.60 1049 855)"/>
<line class="t" x1="1309" y1="855" x2="1359" y2="855" transform="rotate(-99.98 1049 855)"/>
<line class="t" x1="1309" y1="855" x2="1367" y2="855" transform="rotate(-102.36 1049 855)"/>
<line class="t" x1="1319" y1="855" x2="1354" y2="855" transform="rotate(-104.74 1049 855)"/>
<line class="t" x1="1319" y1="855" x2="1367" y2="855" transform="rotate(-107.12 1049 855)"/>
<line class="t" x1="1319" y1="855" x2="1349" y2="855" transform="rotate(-109.50 1049 855)"/>
<line class="t" x1="1319" y1="855" x2="1374" y2="855" transform="rotate(-111.88 1049 855)"/>
<line class="t" x1="1319" y1="855" x2="1359" y2="855" transform="rotate(-114.26 1049 855)"/>
<line class="t" x1="1319" y1="855" x2="1381" y2="855" transform="rotate(-116.64 1049 855)"/>
<line class="t" x1="1174" y1="855" x2="1199" y2="855" transform="rotate(-66 1049 855)"/>
<circle class="t" cx="1049" cy="855" r="150" stroke-dasharray="144.5 9999" transform="rotate(-70.2 1049 855)"/>
<line class="t c75" x1="1199" y1="855" x2="1544" y2="855" transform="rotate(-70.2 1049 855)"/>
<circle class="t c75" cx="1049" cy="855" r="495" stroke-dasharray="20.6 9999" transform="rotate(-71.42 1049 855)"/>
<line class="t" x1="1544" y1="855" x2="1594" y2="855" transform="rotate(-69.04 1049 855)"/>
<line class="t" x1="1544" y1="855" x2="1555" y2="855" transform="rotate(-71.42 1049 855)"/>
<line class="t" x1="1199" y1="855" x2="1349" y2="855" transform="rotate(-62 1049 855)"/>
<circle class="t" cx="1049" cy="855" r="300" stroke-dasharray="186.9 9999" transform="rotate(-83.32 1049 855)"/>
<line class="t" x1="1349" y1="855" x2="1384" y2="855" transform="rotate(-47.62 1049 855)"/>
<line class="t" x1="1349" y1="855" x2="1399" y2="855" transform="rotate(-50.00 1049 855)"/>
<line class="t" x1="1349" y1="855" x2="1391" y2="855" transform="rotate(-52.38 1049 855)"/>
<line class="t" x1="1349" y1="855" x2="1409" y2="855" transform="rotate(-54.76 1049 855)"/>
<line class="t" x1="1349" y1="855" x2="1387" y2="855" transform="rotate(-57.14 1049 855)"/>
<line class="t" x1="1349" y1="855" x2="1421" y2="855" transform="rotate(-59.52 1049 855)"/>
<line class="t" x1="1349" y1="855" x2="1404" y2="855" transform="rotate(-61.90 1049 855)"/>
<line class="t" x1="1349" y1="855" x2="1394" y2="855" transform="rotate(-64.28 1049 855)"/>
<line class="t" x1="1349" y1="855" x2="1414" y2="855" transform="rotate(-66.66 1049 855)"/>
<line class="t" x1="1349" y1="855" x2="1397" y2="855" transform="rotate(-73.80 1049 855)"/>
<line class="t" x1="1349" y1="855" x2="1411" y2="855" transform="rotate(-76.18 1049 855)"/>
<line class="t" x1="1349" y1="855" x2="1389" y2="855" transform="rotate(-78.56 1049 855)"/>
<line class="t" x1="1349" y1="855" x2="1434" y2="855" transform="rotate(-80.94 1049 855)"/>
<line class="t" x1="1349" y1="855" x2="1401" y2="855" transform="rotate(-83.32 1049 855)"/>
<line class="t" x1="1199" y1="855" x2="1486" y2="855" transform="rotate(-42 1049 855)"/>
<circle class="t" cx="1049" cy="855" r="437" stroke-dasharray="54.5 9999" transform="rotate(-45.24 1049 855)"/>
<line class="t" x1="1486" y1="855" x2="1499" y2="855" transform="rotate(-38.10 1049 855)"/>
<line class="t" x1="1486" y1="855" x2="1505" y2="855" transform="rotate(-40.48 1049 855)"/>
<line class="t" x1="1486" y1="855" x2="1497" y2="855" transform="rotate(-42.86 1049 855)"/>
<line class="t" x1="1486" y1="855" x2="1501" y2="855" transform="rotate(-45.24 1049 855)"/>
<line class="t" x1="1199" y1="855" x2="1299" y2="855" transform="rotate(-15 1049 855)"/>
<circle class="t" cx="1049" cy="855" r="250" stroke-dasharray="108.8 9999" transform="rotate(-19 1049 855)"/>
<line class="t" x1="1299" y1="855" x2="1349" y2="855" transform="rotate(5.94 1049 855)"/>
<circle class="t" cx="1049" cy="855" r="300" stroke-dasharray="62.3 9999" transform="rotate(-0.02 1049 855)"/>
<line class="t c50" x1="1299" y1="855" x2="1339" y2="855" transform="rotate(-19 1049 855)"/>
<circle class="t" cx="1049" cy="855" r="290" stroke-dasharray="168.6 9999" transform="rotate(-35.72 1049 855)"/>
<line class="t" x1="1349" y1="855" x2="1367" y2="855" transform="rotate(11.88 1049 855)"/>
<line class="t" x1="1349" y1="855" x2="1375" y2="855" transform="rotate(9.50 1049 855)"/>
<line class="t" x1="1349" y1="855" x2="1371" y2="855" transform="rotate(7.12 1049 855)"/>
<line class="t" x1="1349" y1="855" x2="1379" y2="855" transform="rotate(4.74 1049 855)"/>
<line class="t" x1="1349" y1="855" x2="1369" y2="855" transform="rotate(2.36 1049 855)"/>
<line class="t" x1="1349" y1="855" x2="1377" y2="855" transform="rotate(-0.02 1049 855)"/>
<line class="t" x1="1339" y1="855" x2="1384" y2="855" transform="rotate(-2.40 1049 855)"/>
<line class="t" x1="1339" y1="855" x2="1377" y2="855" transform="rotate(-4.78 1049 855)"/>
<line class="t" x1="1339" y1="855" x2="1389" y2="855" transform="rotate(-7.16 1049 855)"/>
<line class="t" x1="1339" y1="855" x2="1381" y2="855" transform="rotate(-9.54 1049 855)"/>
<line class="t" x1="1339" y1="855" x2="1387" y2="855" transform="rotate(-11.92 1049 855)"/>
<line class="t" x1="1339" y1="855" x2="1379" y2="855" transform="rotate(-14.30 1049 855)"/>
<line class="t" x1="1339" y1="855" x2="1385" y2="855" transform="rotate(-16.68 1049 855)"/>
<line class="t" x1="1339" y1="855" x2="1375" y2="855" transform="rotate(-19.06 1049 855)"/>
<line class="t" x1="1339" y1="855" x2="1383" y2="855" transform="rotate(-21.44 1049 855)"/>
<line class="t" x1="1339" y1="855" x2="1378" y2="855" transform="rotate(-23.82 1049 855)"/>
<line class="t" x1="1339" y1="855" x2="1386" y2="855" transform="rotate(-26.20 1049 855)"/>
<line class="t" x1="1339" y1="855" x2="1380" y2="855" transform="rotate(-28.58 1049 855)"/>
<line class="t" x1="1339" y1="855" x2="1388" y2="855" transform="rotate(-30.96 1049 855)"/>
<line class="t" x1="1339" y1="855" x2="1376" y2="855" transform="rotate(-33.34 1049 855)"/>
<line class="t" x1="1339" y1="855" x2="1382" y2="855" transform="rotate(-35.72 1049 855)"/>
</g>
</g>
<g id="leaf-001"><text class="l e" x="501" y="855" transform="rotate(19.90 1049 855)">BA.1|EPI ISL 12010088|02/02/2022|Nossa</text></g>
<g id="leaf-002"><text class="l e" x="501" y="855" transform="rotate(17.52 1049 855)">BA.1|EPI ISL 12010097|03/02/2022|Aracaju</text></g>
<g id="leaf-003"><text class="l e" x="501" y="855" transform="rotate(15.14 1049 855)">BA.1|EPI ISL 10322457|19/01/2022|Barra dos Coqueiros</text></g>
<g id="leaf-004"><text class="l e" x="501" y="855" transform="rotate(12.76 1049 855)">BA.1|EPI ISL 10322468|20/01/2022|Itabaiana</text></g>
<g id="leaf-005"><text class="l e" x="501" y="855" transform="rotate(10.38 1049 855)">BA.1|EPI ISL 10322479|19/01/2022|São Cristovão</text></g>
<g id="leaf-006"><text class="l e" x="501" y="855" transform="rotate(8.00 1049 855)">BA.1|EPI ISL 10322478|19/01/2022|São Cristovão</text></g>
<g id="leaf-007"><text class="l e" x="501" y="855" transform="rotate(5.62 1049 855)">BA.1|EPI ISL 12010081|04/02/2022|Capela</text></g>
<g id="leaf-008"><text class="l e" x="501" y="855" transform="rotate(3.24 1049 855)">BA.1|EPI ISL 9571533|07/01/2022|Aracaju</text></g>
<g id="leaf-009"><text class="l e" x="501" y="855" transform="rotate(0.86 1049 855)">BA.1|EPI ISL 12010076|04/02/2022|Divina</text></g>
<g id="leaf-010"><text class="l e" x="501" y="855" transform="rotate(-1.52 1049 855)">BA.1|EPI ISL 9571527|10/01/2022|Capela</text></g>
<g id="leaf-011"><text class="l e" x="501" y="855" transform="rotate(-3.90 1049 855)">BA.1|EPI ISL 10322460|19/01/2022|Barra dos Coqueiros</text></g>
<g id="leaf-012"><text class="l e" x="501" y="855" transform="rotate(-6.28 1049 855)">BA.1|EPI ISL 10322462|19/01/2022|Barra dos Coqueiros</text></g>
<g id="leaf-013"><text class="l e" x="501" y="855" transform="rotate(-8.66 1049 855)">BA.1|EPI ISL 10322469|20/01/2022|Itabaiana</text></g>
<g id="leaf-014"><text class="l e" x="501" y="855" transform="rotate(-11.04 1049 855)">BA.1|EPI ISL 10322467|20/01/2022|Itabaiana</text></g>
<g id="leaf-015"><text class="l e" x="501" y="855" transform="rotate(-13.42 1049 855)">BA.1|EPI ISL 10322480|19/01/2022|São Cristovão</text></g>
<g id="leaf-016"><text class="l e" x="501" y="855" transform="rotate(-15.80 1049 855)">BA.1|EPI ISL 12010077|01/02/2022|Areia Branca</text></g>
<g id="leaf-017"><text class="l e" x="501" y="855" transform="rotate(-18.18 1049 855)">BA.1|EPI ISL 10322476|20/01/2022|Salgado</text></g>
<g id="leaf-018"><text class="l e" x="501" y="855" transform="rotate(-20.56 1049 855)">BA.1|EPI ISL 9571536|12/01/2022|Aracaju</text></g>
<g id="leaf-019"><text class="l e" x="501" y="855" transform="rotate(-22.94 1049 855)">BA.1|EPI ISL 9571526|11/01/2022|Divina Pastora</text></g>
<g id="leaf-020"><text class="l e" x="501" y="855" transform="rotate(-25.32 1049 855)">BA.1|EPI ISL 9671660|03/01/2022|Tobias Barreto</text></g>
<g id="leaf-021"><text class="l e" x="501" y="855" transform="rotate(-27.70 1049 855)">BA.1.15|EPI ISL 10322475|20/01/2022|Salgado</text></g>
<g id="leaf-022"><text class="l e" x="501" y="855" transform="rotate(-30.08 1049 855)">BA.1.15|EPI ISL 9571534|12/01/2022|Aracaju</text></g>
<g id="leaf-023"><text class="l e" x="501" y="855" transform="rotate(-32.46 1049 855)">BA.1.15|EPI ISL 12010093|02/02/2022|Riachão do Dantas</text></g>
<g id="leaf-024"><text class="l e" x="501" y="855" transform="rotate(-34.84 1049 855)">BA.1.15|EPI ISL 9571528|10/01/2022|Capela</text></g>
<g id="leaf-025"><text class="l e" x="501" y="855" transform="rotate(-37.22 1049 855)">BA.1.15|EPI ISL 10322466|19/01/2022|Carmopolis</text></g>
<g id="leaf-026"><text class="l e" x="501" y="855" transform="rotate(-39.60 1049 855)">BA.1.15|EPI ISL 10322492|19/01/2022|São Cristovão</text></g>
<g id="leaf-027"><text class="l e" x="501" y="855" transform="rotate(-41.98 1049 855)">BA.1|EPI ISL 9571518|10/01/2022|São Cristovão</text></g>
<g id="leaf-028"><text class="l e" x="501" y="855" transform="rotate(-44.36 1049 855)">BA.1.1.1|EPI ISL 12010084|03/02/2022|Frei Paulo</text></g>
<g id="leaf-029"><text class="l e" x="501" y="855" transform="rotate(-46.74 1049 855)">BA.1.1.1|EPI ISL 9571542|12/01/2022|Aracaju</text></g>
<g id="leaf-030"><text class="l e" x="501" y="855" transform="rotate(-49.12 1049 855)">BA.1.17.2|EPI ISL 9571532|12/01/2022|Aracaju</text></g>
<g id="leaf-031"><text class="l e" x="501" y="855" transform="rotate(-51.50 1049 855)">BA.1.17.2|EPI ISL 9571540|12/01/2022|Aracaju</text></g>
<g id="leaf-032"><text class="l e" x="501" y="855" transform="rotate(-53.88 1049 855)">BA.1|EPI ISL 9571524|13/01/2022|Itabaiana</text></g>
<g id="leaf-033"><text class="l e" x="501" y="855" transform="rotate(-56.26 1049 855)">BA.1|EPI ISL 12429755|20/01/2022|Barra dos Coqueiros</text></g>
<g id="leaf-034"><text class="l e" x="501" y="855" transform="rotate(-58.64 1049 855)">BA.1|EPI ISL 9571525|13/01/2022|Itabaiana</text></g>
<g id="leaf-035"><text class="l e" x="501" y="855" transform="rotate(-61.02 1049 855)">BA.1|EPI ISL 10322459|19/01/2022|Barra dos Coqueiros</text></g>
<g id="leaf-036"><text class="l e" x="501" y="855" transform="rotate(-63.40 1049 855)">BA.1|EPI ISL 9571541|13/01/2022|Aracaju</text></g>
<g id="leaf-037"><text class="l e" x="501" y="855" transform="rotate(-65.78 1049 855)">BA.1.14|EPI ISL 10322474|20/01/2022|Salgado</text></g>
<g id="leaf-038"><text class="l e" x="501" y="855" transform="rotate(-68.16 1049 855)">BA.1.14|EPI ISL 9571522|13/01/2022|Itabaiana</text></g>
<g id="leaf-039"><text class="l e" x="501" y="855" transform="rotate(-70.54 1049 855)">BA.1.14|EPI ISL 10322465|19/01/2022|Carmopolis</text></g>
<g id="leaf-040"><text class="l e" x="501" y="855" transform="rotate(-72.92 1049 855)">BA.1.14.2|EPI ISL 9571537|13/01/2022|Aracaju</text></g>
<g id="leaf-041"><text class="l e" x="501" y="855" transform="rotate(-75.30 1049 855)">BA.1.14.1|EPI ISL 12429757|20/01/2022|Barra dos Coqueiros</text></g>
<g id="leaf-042"><text class="l e" x="501" y="855" transform="rotate(-77.68 1049 855)">BA.1.14.1|EPI ISL 9571531|13/01/2022|Aracaju</text></g>
<g id="leaf-043"><text class="l e" x="501" y="855" transform="rotate(-80.06 1049 855)">BA.1.14.1|EPI ISL 12429756|20/01/2022|Barra dos Coqueiros</text></g>
<g id="leaf-044"><text class="l e" x="501" y="855" transform="rotate(-82.44 1049 855)">BA.1.1|EPI ISL 12429753|20/01/2022|Barra dos Coqueiros</text></g>
<g id="leaf-045"><text class="l e" x="501" y="855" transform="rotate(-84.82 1049 855)">BA.1.1|EPI ISL 12429754|20/01/2022|Barra dos Coqueiros</text></g>
<g id="leaf-046"><text class="l e" x="501" y="855" transform="rotate(-87.20 1049 855)">BA.1.1|EPI ISL 10322453|19/01/2022|Barra dos Coqueiros</text></g>
<g id="leaf-047"><text class="l e" x="501" y="855" transform="rotate(-89.58 1049 855)">BA.1.1|EPI ISL 10322452|19/01/2022|Aracaju</text></g>
<g id="leaf-048"><text class="l" x="1597" y="855" transform="rotate(88.04 1049 855)">BA.1.1|EPI ISL 12010083|03/02/2022|Frei Paulo</text></g>
<g id="leaf-049"><text class="l" x="1597" y="855" transform="rotate(85.66 1049 855)">BA.1.1|EPI ISL 10322461|19/01/2022|Barra dos Coqueiros</text></g>
<g id="leaf-050"><text class="l" x="1597" y="855" transform="rotate(83.28 1049 855)">BA.1.1|EPI ISL 10322473|20/01/2022|Nossa Senhora do Socorro</text></g>
<g id="leaf-051"><text class="l" x="1597" y="855" transform="rotate(80.90 1049 855)">BA.1.1|EPI ISL 12429752|20/01/2022|Barra dos Coqueiros</text></g>
<g id="leaf-052"><text class="l" x="1597" y="855" transform="rotate(78.52 1049 855)">BA.1|EPI ISL 12010078|01/02/2022|Areia Branca</text></g>
<g id="leaf-053"><text class="l" x="1597" y="855" transform="rotate(76.14 1049 855)">BA.1.1.14|EPI ISL 9571529|07/01/2022|Boquim</text></g>
<g id="leaf-054"><text class="l" x="1597" y="855" transform="rotate(73.76 1049 855)">BA.1.1|EPI ISL 10322471|20/01/2022|Nossa Senhora do Socorro</text></g>
<g id="leaf-055"><text class="l" x="1597" y="855" transform="rotate(71.38 1049 855)">BA.1.1|EPI ISL 9571539|12/01/2022|Aracaju</text></g>
<g id="leaf-056"><text class="l" x="1597" y="855" transform="rotate(69.00 1049 855)">BA.1.1|EPI ISL 10322454|19/01/2022|Barra dos Coqueiros</text></g>
<g id="leaf-057"><text class="l" x="1597" y="855" transform="rotate(66.62 1049 855)">BA.1.1|EPI ISL 9571538|12/01/2022|Aracaju</text></g>
<g id="leaf-058"><text class="l" x="1597" y="855" transform="rotate(64.24 1049 855)">BA.1.1|EPI ISL 10322456|19/01/2022|Barra dos Coqueiros</text></g>
<g id="leaf-059"><text class="l" x="1597" y="855" transform="rotate(61.86 1049 855)">BA.1.1|EPI ISL 10322464|19/01/2022|Barra dos Coqueiros</text></g>
<g id="leaf-060"><text class="l" x="1597" y="855" transform="rotate(59.48 1049 855)">BA.1.1|EPI ISL 9571535|12/01/2022|Aracaju</text></g>
<g id="leaf-061"><text class="l" x="1597" y="855" transform="rotate(57.10 1049 855)">BA.1.1|EPI ISL 9571519|10/01/2022|São Cristovão</text></g>
<g id="leaf-062"><text class="l" x="1597" y="855" transform="rotate(54.72 1049 855)">BA.1.1|EPI ISL 12010079|31/01/2022|Itabaiana</text></g>
<g id="leaf-063"><text class="l" x="1597" y="855" transform="rotate(52.34 1049 855)">BA.1.1|EPI ISL 12010021|03/02/2022|Divina Pastora</text></g>
<g id="leaf-064"><text class="l" x="1597" y="855" transform="rotate(49.96 1049 855)">BA.1.1|EPI ISL 12010080|03/02/2022|Divina Pastora</text></g>
<g id="leaf-065"><text class="l" x="1597" y="855" transform="rotate(47.58 1049 855)">BA.1.1|EPI ISL 9571521|11/01/2022|Riachão do Dantas</text></g>
<g id="leaf-066"><text class="l" x="1597" y="855" transform="rotate(45.20 1049 855)">BA.1.1|EPI ISL 9571530|07/01/2022|Boquim</text></g>
<g id="leaf-067"><text class="l" x="1597" y="855" transform="rotate(42.82 1049 855)">BA.1.1|EPI ISL 10322472|20/01/2022|Nossa Senhora do Socorro</text></g>
<g id="leaf-068"><text class="l" x="1597" y="855" transform="rotate(40.44 1049 855)">BA.1.1|EPI ISL 12010082|04/02/2022|Frei Paulo</text></g>
<g id="leaf-069"><text class="l" x="1597" y="855" transform="rotate(38.06 1049 855)">BA.1.1|EPI ISL 10322463|19/01/2022|Barra dos Coqueiros</text></g>
<g id="leaf-070"><text class="l" x="1597" y="855" transform="rotate(35.68 1049 855)">BA.1|EPI ISL 10322470|20/01/2022|Itaporanga Dajuda</text></g>
<g id="leaf-071"><text class="l" x="1597" y="855" transform="rotate(33.30 1049 855)">BA.1.1|EPI ISL 9571520|12/01/2022|Riachao do Dantas</text></g>
<g id="leaf-072"><text class="l" x="1597" y="855" transform="rotate(30.92 1049 855)">BA.1.1|EPI ISL 9571517|12/01/2022|Simão Dias</text></g>
<g id="leaf-073"><text class="l" x="1597" y="855" transform="rotate(28.54 1049 855)">BA.1.1|EPI ISL 10322455|19/01/2022|Barra dos Coqueiros</text></g>
<g id="leaf-074"><text class="l" x="1597" y="855" transform="rotate(26.16 1049 855)">BA.1.1|EPI ISL 9571523|13/01/2022|Itabaiana</text></g>
<g id="leaf-075"><text class="l" x="1597" y="855" transform="rotate(23.78 1049 855)">BA.1.1|EPI ISL 10322458|19/01/2022|Barra dos Coqueiros</text></g>
<g id="leaf-076"><text class="l" x="1597" y="855" transform="rotate(21.40 1049 855)">BA.1.1|EPI ISL 10322477|19/01/2022|São Cristovão</text></g>
<g id="leaf-077"><text class="l" x="1597" y="855" transform="rotate(19.02 1049 855)">BA.1.1|EPI ISL 12429758|20/01/2022|Barra dos Coqueiros</text></g>
<g id="leaf-078"><text class="l" x="1597" y="855" transform="rotate(16.64 1049 855)">BA.1.1|EPI ISL 12010094|03/02/2022|Tobias Barreto</text></g>
<g id="leaf-079"><text class="l" x="1597" y="855" transform="rotate(14.26 1049 855)">BA.1.1|EPI ISL 9671659|04/01/2022|São Cristovão</text></g>
<g id="leaf-080"><text class="l" x="1597" y="855" transform="rotate(11.88 1049 855)">BA.5.2|EPI ISL 15279659|13/07/2022|São Cristovão</text></g>
<g id="leaf-081"><text class="l" x="1597" y="855" transform="rotate(9.50 1049 855)">BA.5.2|EPI ISL 15279662|13/07/2022|Nossa Senhora do Socorro</text></g>
<g id="leaf-082"><text class="l" x="1597" y="855" transform="rotate(7.12 1049 855)">BA.5.2|EPI ISL 15279661|14/07/2022|Ribeiropolis</text></g>
<g id="leaf-083"><text class="l" x="1597" y="855" transform="rotate(4.74 1049 855)">BA.5.2|EPI ISL 15279660|14/07/2022|Aracaju</text></g>
<g id="leaf-084"><text class="l" x="1597" y="855" transform="rotate(2.36 1049 855)">BA.5.2|EPI ISL 15279657|09/07/2022|Nossa Senhora do Socorro</text></g>
<g id="leaf-085"><text class="l" x="1597" y="855" transform="rotate(-0.02 1049 855)">BA.5.2|EPI ISL 15279663|04/07/2022|Nossa Senhora do Socorro</text></g>
<g id="leaf-086"><text class="l" x="1597" y="855" transform="rotate(-2.40 1049 855)">BA.5.2.1|EPI ISL 13821909|10/06/2022|Aracaju</text></g>
<g id="leaf-087"><text class="l" x="1597" y="855" transform="rotate(-4.78 1049 855)">BA.5.2.1|EPI ISL 15279654|04/07/2022|Ribeiropolis</text></g>
<g id="leaf-088"><text class="l" x="1597" y="855" transform="rotate(-7.16 1049 855)">BA.5.2.1|EPI ISL 15279655|11/07/2022|Barra dos Coqueiros</text></g>
<g id="leaf-089"><text class="l" x="1597" y="855" transform="rotate(-9.54 1049 855)">BA.5.2.1|EPI ISL 15279658|14/07/2022|São Cristovão</text></g>
<g id="leaf-090"><text class="l" x="1597" y="855" transform="rotate(-11.92 1049 855)">BA.5.2.1|EPI ISL 13821908|12/06/2022|Aracaju</text></g>
<g id="leaf-091"><text class="l" x="1597" y="855" transform="rotate(-14.30 1049 855)">BA.5.2.1|EPI ISL 15279664|02/07/2022|Nossa Senhora do Socorro</text></g>
<g id="leaf-092"><text class="l" x="1597" y="855" transform="rotate(-16.68 1049 855)">BA.5.2.1|EPI ISL 15202014|25/06/2022|Aracaju</text></g>
<g id="leaf-093"><text class="l" x="1597" y="855" transform="rotate(-19.06 1049 855)">BA.5.2.1|EPI ISL 15202016|26/06/2022|Aracaju</text></g>
<g id="leaf-094"><text class="l" x="1597" y="855" transform="rotate(-21.44 1049 855)">BA.5.2.1|EPI ISL 15202013|22/06/2022|Lagarto</text></g>
<g id="leaf-095"><text class="l" x="1597" y="855" transform="rotate(-23.82 1049 855)">BA.5.2.1|EPI ISL 15202023|28/06/2022|Malhador</text></g>
<g id="leaf-096"><text class="l" x="1597" y="855" transform="rotate(-26.20 1049 855)">BA.5.2.1|EPI ISL 15802461|03/07/2022|Nossa Senhora do Socorro</text></g>
<g id="leaf-097"><text class="l" x="1597" y="855" transform="rotate(-28.58 1049 855)">BA.5.1|EPI ISL 15202018|26/06/2022|Aracaju</text></g>
<g id="leaf-098"><text class="l" x="1597" y="855" transform="rotate(-30.96 1049 855)">BA.5.2.1|EPI ISL 15802456|22/06/2022|Aracaju</text></g>
<g id="leaf-099"><text class="l" x="1597" y="855" transform="rotate(-33.34 1049 855)">BA.5.2.1|EPI ISL 15802460|26/06/2022|Macambira</text></g>
<g id="leaf-100"><text class="l" x="1597" y="855" transform="rotate(-35.72 1049 855)">BA.5.2.1|EPI ISL 15802439|27/06/2022|Aracaju</text></g>
<g id="leaf-101"><text class="l" x="1597" y="855" transform="rotate(-38.10 1049 855)">BA.5.2|EPI ISL 15802440|22/06/2022|Nossa Senhora das Dores</text></g>
<g id="leaf-102"><text class="l" x="1597" y="855" transform="rotate(-40.48 1049 855)">BA.5|EPI ISL 15802446|03/07/2022|Nossa Senhora do Socorro</text></g>
<g id="leaf-103"><text class="l" x="1597" y="855" transform="rotate(-42.86 1049 855)">BA.5.1|EPI ISL 15802437|25/06/2022|Aracaju</text></g>
<g id="leaf-104"><text class="l" x="1597" y="855" transform="rotate(-45.24 1049 855)">BA.5.2.1|EPI ISL 15802447|26/06/2022|Aracaju</text></g>
<g id="leaf-105"><text class="l" x="1597" y="855" transform="rotate(-47.62 1049 855)">BA.5.2|EPI ISL 15802457|25/06/2022|Barra</text></g>
<g id="leaf-106"><text class="l" x="1597" y="855" transform="rotate(-50.00 1049 855)">BA.5.2|EPI ISL 15802462|25/06/2022|Aracaju</text></g>
<g id="leaf-107"><text class="l" x="1597" y="855" transform="rotate(-52.38 1049 855)">BA.5.2|EPI ISL 15202015|25/06/2022|Aracaju</text></g>
<g id="leaf-108"><text class="l" x="1597" y="855" transform="rotate(-54.76 1049 855)">BA.5.2|EPI ISL 15202008|21/06/2022|Japaratuba</text></g>
<g id="leaf-109"><text class="l" x="1597" y="855" transform="rotate(-57.14 1049 855)">BA.5.2|EPI ISL 15202017|26/06/2022|Pinhão</text></g>
<g id="leaf-110"><text class="l" x="1597" y="855" transform="rotate(-59.52 1049 855)">BA.5.2|EPI ISL 15202007|21/06/2022|Japaratuba</text></g>
<g id="leaf-111"><text class="l" x="1597" y="855" transform="rotate(-61.90 1049 855)">BA.5.2|EPI ISL 15802455|21/06/2022|Lagarto</text></g>
<g id="leaf-112"><text class="l" x="1597" y="855" transform="rotate(-64.28 1049 855)">BA.5.1|EPI ISL 15202009|20/06/2022|Aracaju</text></g>
<g id="leaf-113"><text class="l" x="1597" y="855" transform="rotate(-66.66 1049 855)">BA.5.2|EPI ISL 15202021|28/06/2022|Aracaju</text></g>
<g id="leaf-114"><text class="l" x="1597" y="855" transform="rotate(-69.04 1049 855)">BA.5.2|EPI ISL 15202012|22/06/2022|Lagarto</text></g>
<g id="leaf-115"><text class="l" x="1597" y="855" transform="rotate(-71.42 1049 855)">BA.5.2|EPI ISL 15802454|28/06/2022|Aracaju</text></g>
<g id="leaf-116"><text class="l" x="1597" y="855" transform="rotate(-73.80 1049 855)">BA.5.2|EPI ISL 15802463|22/06/2022|Ribeiropolis</text></g>
<g id="leaf-117"><text class="l" x="1597" y="855" transform="rotate(-76.18 1049 855)">BA.5.2|EPI ISL 15802452|28/06/2022|Aracaju</text></g>
<g id="leaf-118"><text class="l" x="1597" y="855" transform="rotate(-78.56 1049 855)">BA.5.2.1|EPI ISL 15802438|25/06/2022|Aracaju</text></g>
<g id="leaf-119"><text class="l" x="1597" y="855" transform="rotate(-80.94 1049 855)">BA.5.2|EPI ISL 15802449|27/06/2022|Umbauba</text></g>
<g id="leaf-120"><text class="l" x="1597" y="855" transform="rotate(-83.32 1049 855)">BA.5.2|EPI ISL 15802444|27/06/2022|Poço Verde</text></g>
<g id="leaf-121"><text class="l e" x="501" y="855" transform="rotate(94.30 1049 855)">BA.2|EPI ISL 15802458|22/06/2022|Aracaju</text></g>
<g id="leaf-122"><text class="l e" x="501" y="855" transform="rotate(91.92 1049 855)">BA.2|EPI ISL 13821904|09/06/2022|Aracaju</text></g>
<g id="leaf-123"><text class="l e" x="501" y="855" transform="rotate(89.54 1049 855)">BA.2|EPI ISL 13821906|12/06/2022|Aracaju</text></g>
<g id="leaf-124"><text class="l e" x="501" y="855" transform="rotate(87.16 1049 855)">BA.2|EPI ISL 13821902|08/06/2022|Aracaju</text></g>
<g id="leaf-125"><text class="l e" x="501" y="855" transform="rotate(84.78 1049 855)">BA.2.56|EPI ISL 13821905|09/06/2022|Nossa Senhora do Socorro</text></g>
<g id="leaf-126"><text class="l e" x="501" y="855" transform="rotate(82.40 1049 855)">BA.2|EPI ISL 13821910|12/06/2022|Riachão do Dantas</text></g>
<g id="leaf-127"><text class="l e" x="501" y="855" transform="rotate(80.02 1049 855)">BA.2.12.1|EPI ISL 13821901|12/06/2022|Aracaju</text></g>
<g id="leaf-128"><text class="l e" x="501" y="855" transform="rotate(77.64 1049 855)">BA.2.12.1|EPI ISL 13821903|08/06/2022|São Cristovão</text></g>
<g id="leaf-129"><text class="l e" x="501" y="855" transform="rotate(75.26 1049 855)">BA.2|EPI ISL 15202004|20/06/2022|Ribeiropolis</text></g>
<g id="leaf-130"><text class="l e" x="501" y="855" transform="rotate(72.88 1049 855)">BA.2|EPI ISL 15202011|20/06/2022|Lagarto</text></g>
<g id="leaf-131"><text class="l e" x="501" y="855" transform="rotate(70.50 1049 855)">BA.2|EPI ISL 15202005|20/06/2022|Aracaju</text></g>
<g id="leaf-132"><text class="l e" x="501" y="855" transform="rotate(68.12 1049 855)">BA.2|EPI ISL 15802450|21/06/2022|Lagarto</text></g>
<g id="leaf-133"><text class="l e" x="501" y="855" transform="rotate(65.74 1049 855)">BA.2|EPI ISL 15802441|22/06/2022|Itabaiana</text></g>
<g id="leaf-134"><text class="l e" x="501" y="855" transform="rotate(63.36 1049 855)">BA.2|EPI ISL 15202022|27/06/2022|Nossa</text></g>
<g id="leaf-135"><text class="l e" x="501" y="855" transform="rotate(60.98 1049 855)">BA.4.1|EPI ISL 13821899|09/06/2022|Aracaju</text></g>
<g id="leaf-136"><text class="l e" x="501" y="855" transform="rotate(58.60 1049 855)">BA.4.1|EPI ISL 13821900|08/06/2022|Aracaju</text></g>
<g id="leaf-137"><text class="l e" x="501" y="855" transform="rotate(56.22 1049 855)">BA.4|EPI ISL 13821907|12/06/2022|Aracaju</text></g>
<g id="leaf-138"><text class="l e" x="501" y="855" transform="rotate(53.84 1049 855)">BA.4|EPI ISL 15279656|10/07/2022|Nossa</text></g>
<g id="leaf-139"><text class="l e" x="501" y="855" transform="rotate(51.46 1049 855)">BA.4|EPI ISL 15802443|26/06/2022|Aracaju</text></g>
<g id="leaf-140"><text class="l e" x="501" y="855" transform="rotate(49.08 1049 855)">BA.4|EPI ISL 15802448|22/06/2022|São Cristovão</text></g>
<g id="leaf-141"><text class="l e" x="501" y="855" transform="rotate(46.70 1049 855)">BA.4|EPI ISL 15202006|20/06/2022|Aracaju</text></g>
<g id="leaf-142"><text class="l e" x="501" y="855" transform="rotate(44.32 1049 855)">BA.4|EPI ISL 15202019|27/06/2022|Aracaju</text></g>
<g id="leaf-143"><text class="l e" x="501" y="855" transform="rotate(41.94 1049 855)">BA.4|EPI ISL 15802445|27/06/2022|Aracaju</text></g>
<g id="leaf-144"><text class="l e" x="501" y="855" transform="rotate(39.56 1049 855)">BA.4|EPI ISL 15802459|27/06/2022|Aracaju</text></g>
<g id="leaf-145"><text class="l e" x="501" y="855" transform="rotate(37.18 1049 855)">BA.4|EPI ISL 15802464|20/06/2022|Aracaju</text></g>
<g id="leaf-146"><text class="l e" x="501" y="855" transform="rotate(34.80 1049 855)">BA.4|EPI ISL 15202010|21/06/2022|Aracaju</text></g>
<g id="leaf-147"><text class="l e" x="501" y="855" transform="rotate(32.42 1049 855)">BA.4|EPI ISL 15802453|21/06/2022|Barra</text></g>
<g id="leaf-148"><text class="l e" x="501" y="855" transform="rotate(30.04 1049 855)">NC 045512.2|Reference</text></g>
<g id="tree-scale">
<text x="6" y="25" font-family="Liberation Sans,Arial,sans-serif" font-weight="bold" font-size="18" fill="#666">Tree scale: 0.001</text>
<path d="M163 19.5H332M163 16V23M332 16V23M247.5 19.5V22.5" stroke="#666" stroke-width="1.2" fill="none"/>
</g>
<g id="legend-ranges">
<rect x="2" y="54.5" width="112" height="624" fill="#fff" stroke="#e8e8e8"/>
<text class="lh" x="58" y="71">Colored ranges</text>
<line x1="5" y1="80.5" x2="111" y2="80.5" stroke="#333"/>
<rect class="sw" x="7" y="87.3" width="21" height="21" fill="#808080"/><text class="lg" x="38" y="103">Outgroup</text>
<rect class="sw" x="7" y="118.55" width="21" height="21" fill="#f44336"/><text class="lg" x="38" y="134.25">BA.2</text>
<rect class="sw" x="7" y="149.8" width="21" height="21" fill="#f4cccc"/><text class="lg" x="38" y="165.5">BA.4</text>
<rect class="sw" x="7" y="181.05" width="21" height="21" fill="#8fce00"/><text class="lg" x="38" y="196.75">BA.5.2</text>
<rect class="sw" x="7" y="212.3" width="21" height="21" fill="#b6d7a8"/><text class="lg" x="38" y="228">BA.5.1</text>
<rect class="sw" x="7" y="243.55" width="21" height="21" fill="#38761d"/><text class="lg" x="38" y="259.25">BA.5</text>
<rect class="sw" x="7" y="274.8" width="21" height="21" fill="#93c47d"/><text class="lg" x="38" y="290.5">BA.5.2.1</text>
<rect class="sw" x="7" y="306.05" width="21" height="21" fill="#2986cc"/><text class="lg" x="38" y="321.75">BA.1.1</text>
<rect class="sw" x="7" y="337.3" width="21" height="21" fill="#d0e0e3"/><text class="lg" x="38" y="353">BA.1</text>
<rect class="sw" x="7" y="368.55" width="21" height="21" fill="#a2c4c9"/><text class="lg" x="38" y="384.25">BA.1.1.14</text>
<rect class="sw" x="7" y="399.8" width="21" height="21" fill="#0b5394"/><text class="lg" x="38" y="415.5">BA.1.14.1</text>
<rect class="sw" x="7" y="431.05" width="21" height="21" fill="#b4a7d6"/><text class="lg" x="38" y="446.75">BA.1.14</text>
<rect class="sw" x="7" y="462.3" width="21" height="21" fill="#6a329f"/><text class="lg" x="38" y="478">BA.1.17.2</text>
<rect class="sw" x="7" y="493.55" width="21" height="21" fill="#c90076"/><text class="lg" x="38" y="509.25">BA.1.1.1</text>
<rect class="sw" x="7" y="524.8" width="21" height="21" fill="#ff0000"/><text class="lg" x="38" y="540.5">BA.1.15</text>
<rect class="sw" x="7" y="556.05" width="21" height="21" fill="#ffff00"/><text class="lg" x="38" y="571.75">BA.1.14.2</text>
<rect class="sw" x="7" y="587.3" width="21" height="21" fill="#e06666"/><text class="lg" x="38" y="603">BA.4.1</text>
<rect class="sw" x="7" y="618.55" width="21" height="21" fill="#ea9999"/><text class="lg" x="38" y="634.25">BA.2.12.1</text>
<rect class="sw" x="7" y="649.8" width="21" height="21" fill="#cc0000"/><text class="lg" x="38" y="665.5">BA.2.56</text>
</g>
<g id="legend-bootstrap">
<rect x="131" y="54.5" width="74" height="186.5" fill="#fff" stroke="#e8e8e8"/>
<text class="lh" x="168" y="71">bootstrap</text>
<line x1="134" y1="80.5" x2="202" y2="80.5" stroke="#333"/>
<rect class="sw" x="136" y="87.3" width="21" height="21" fill="#ff0000"/><text class="lg" x="167" y="103">50</text>
<rect class="sw" x="136" y="118.55" width="21" height="21" fill="#bf4000"/><text class="lg" x="167" y="134.25">62.5</text>
<rect class="sw" x="136" y="149.8" width="21" height="21" fill="#808000"/><text class="lg" x="167" y="165.5">75</text>
<rect class="sw" x="136" y="181.05" width="21" height="21" fill="#40bf00"/><text class="lg" x="167" y="196.75">87.5</text>
<rect class="sw" x="136" y="212.3" width="21" height="21" fill="#00ff00"/><text class="lg" x="167" y="228">100</text>
</g>
</svg>
